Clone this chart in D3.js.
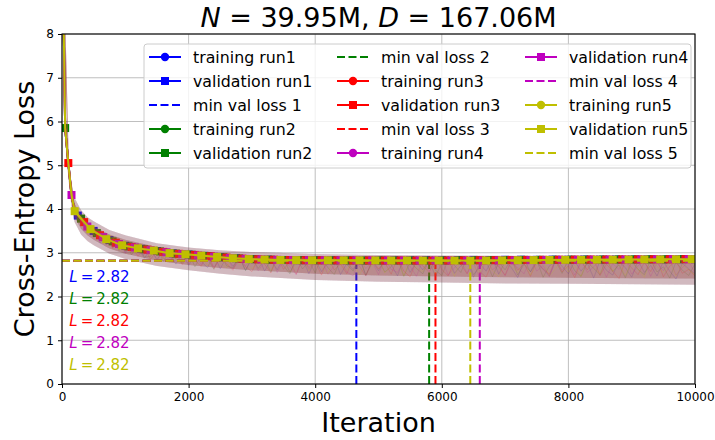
<!DOCTYPE html>
<html><head><meta charset="utf-8">
<script src="https://cdn.jsdelivr.net/npm/d3@7"></script>
<style>body{margin:0;background:#fff}svg{display:block}text{font-family:"DejaVu Sans",sans-serif}</style>
</head><body>
<svg id="c" width="715" height="440"></svg>
<script>
// ---------- data ----------
const runNames = ["run1","run2","run3","run4","run5"];
const runColors = ["#0000ff","#008000","#ff0000","#bf00bf","#bfbf00"];
const xTicks = [0,2000,4000,6000,8000,10000];
const yTicks = [0,1,2,3,4,5,6,7,8];
const titleParts = ["N"," = 39.95M, ","D"," = 167.06M"];

// training loss, sampled every 100 iterations (0..10000)
const trainStep = 100;
const train1 = [10.9,5.05,3.96,3.80,3.49,3.58,3.22,3.41,3.12,3.30,
 3.01,3.19,3.14,2.87,3.10,2.83,3.06,2.99,2.74,3.02,
 2.71,2.95,2.80,2.66,2.97,2.63,2.91,2.69,2.88,2.60,
 2.86,2.92,2.58,2.83,2.61,2.89,2.55,2.80,2.87,2.52,
 2.84,2.57,2.78,2.90,2.50,2.76,2.62,2.86,2.48,2.81,
 2.59,2.84,2.73,2.47,2.88,2.55,2.79,2.61,2.83,2.45,
 2.77,2.86,2.53,2.70,2.82,2.44,2.75,2.58,2.87,2.51,
 2.80,2.66,2.43,2.85,2.56,2.78,2.62,2.47,2.84,2.69,
 2.52,2.81,2.58,2.76,2.42,2.83,2.60,2.49,2.79,2.66,
 2.44,2.82,2.55,2.71,2.47,2.80,2.58,2.40,2.76,2.63,2.52];
const train2 = [10.9,4.92,4.08,3.64,3.70,3.36,3.47,3.19,3.38,3.05,
 3.26,2.95,3.21,2.90,2.92,3.15,2.80,3.04,2.86,2.76,
 3.01,2.68,2.93,2.87,2.62,2.99,2.70,2.65,2.93,2.59,
 2.90,2.64,2.85,2.56,2.92,2.70,2.52,2.88,2.63,2.81,
 2.54,2.91,2.66,2.50,2.85,2.73,2.58,2.89,2.49,2.77,
 2.83,2.56,2.68,2.90,2.46,2.79,2.64,2.52,2.86,2.60,
 2.48,2.84,2.71,2.55,2.88,2.50,2.67,2.81,2.45,2.78,
 2.61,2.87,2.49,2.74,2.57,2.83,2.44,2.70,2.80,2.53,
 2.85,2.59,2.46,2.79,2.64,2.50,2.86,2.57,2.72,2.43,
 2.81,2.62,2.50,2.84,2.56,2.68,2.42,2.79,2.60,2.48,2.75];
const train3 = [10.9,5.10,3.92,3.78,3.45,3.55,3.26,3.39,3.10,3.28,
 3.05,3.16,2.92,3.11,2.85,3.05,2.88,2.79,3.03,2.73,
 2.94,2.82,2.69,2.98,2.64,2.89,2.75,2.60,2.91,2.68,
 2.57,2.87,2.74,2.54,2.90,2.62,2.80,2.51,2.86,2.66,
 2.79,2.49,2.88,2.61,2.74,2.52,2.87,2.69,2.47,2.83,
 2.63,2.78,2.51,2.89,2.58,2.45,2.82,2.70,2.55,2.86,
 2.62,2.47,2.80,2.73,2.52,2.88,2.57,2.44,2.79,2.68,
 2.49,2.84,2.60,2.75,2.46,2.82,2.63,2.51,2.87,2.56,
 2.70,2.43,2.80,2.61,2.85,2.48,2.74,2.58,2.41,2.83,
 2.65,2.50,2.78,2.57,2.86,2.45,2.69,2.81,2.53,2.62,2.47];
const train4 = [10.9,4.98,4.02,3.70,3.62,3.41,3.30,3.44,3.15,3.25,
 2.99,3.22,3.00,2.96,3.08,2.86,3.00,2.82,3.01,2.84,
 2.76,2.99,2.73,2.91,2.67,2.85,2.93,2.63,2.82,2.70,
 2.88,2.59,2.79,2.91,2.55,2.84,2.68,2.50,2.89,2.62,
 2.75,2.86,2.51,2.70,2.82,2.56,2.47,2.85,2.64,2.79,
 2.50,2.87,2.62,2.55,2.81,2.69,2.46,2.84,2.58,2.76,
 2.85,2.49,2.66,2.83,2.53,2.77,2.42,2.86,2.61,2.72,
 2.47,2.80,2.65,2.52,2.88,2.58,2.71,2.45,2.83,2.60,
 2.77,2.49,2.84,2.55,2.68,2.82,2.44,2.75,2.62,2.86,
 2.51,2.70,2.83,2.46,2.77,2.59,2.85,2.49,2.66,2.80,2.54];
const train5 = [10.9,5.06,3.98,3.74,3.55,3.48,3.33,3.22,3.36,3.09,
 3.20,2.98,3.13,3.06,2.91,3.08,2.87,3.00,2.85,2.95,
 2.80,2.90,2.95,2.70,2.88,2.77,2.66,2.90,2.72,2.86,
 2.63,2.82,2.89,2.60,2.78,2.85,2.56,2.74,2.90,2.59,
 2.81,2.67,2.53,2.88,2.72,2.60,2.84,2.49,2.77,2.69,
 2.87,2.54,2.72,2.80,2.48,2.83,2.66,2.57,2.88,2.51,
 2.74,2.79,2.46,2.85,2.63,2.70,2.52,2.87,2.59,2.45,
 2.82,2.68,2.55,2.86,2.49,2.73,2.80,2.47,2.64,2.85,
 2.56,2.71,2.46,2.83,2.67,2.53,2.87,2.58,2.74,2.48,
 2.80,2.62,2.44,2.84,2.69,2.55,2.81,2.47,2.72,2.61,2.50];
const trainRuns = [train1,train2,train3,train4,train5];

// spread of the dense training noise (outer envelope and dense core)
const bandIters = [0,50,100,150,200,300,400,500,750,1000,1500,2000,2500,3000,4000,5000,6000,7000,8000,9000,10000];
const bandHigh  = [11,6.3,5.3,4.6,4.25,3.98,3.82,3.72,3.52,3.40,3.22,3.12,3.06,3.02,2.97,2.95,2.94,2.93,2.93,2.92,2.92];
const bandLow   = [10.6,5.6,4.7,4.05,3.70,3.42,3.27,3.17,2.98,2.86,2.70,2.60,2.52,2.46,2.38,2.34,2.32,2.30,2.29,2.28,2.27];
const coreHigh  = [10.9,6.1,5.15,4.45,4.12,3.86,3.70,3.60,3.42,3.30,3.13,3.02,2.96,2.92,2.87,2.85,2.84,2.83,2.83,2.82,2.82];
const coreLow   = [10.7,5.8,4.85,4.2,3.82,3.55,3.40,3.30,3.10,2.98,2.82,2.72,2.65,2.60,2.52,2.48,2.46,2.44,2.43,2.42,2.41];

// validation loss: shared early evaluations + each run's marked evaluations (every 250 its)
const valEarlyIters = [0,50,100,150,200];
const valEarly = [10.9,5.85,5.05,4.32,3.95];
const valOffsets = [0,50,100,150,200];
const valStep = 250;
const val1 = [10.9,3.85,3.50,3.29,3.16,3.09,3.04,2.985,2.96,2.93,2.90,2.875,2.855,2.845,2.835,2.83,2.83,2.828,2.825,2.822,2.826,2.83,2.828,2.832,2.83,2.834,2.836,2.833,2.838,2.84,2.837,2.842,2.84,2.845,2.843,2.847,2.846,2.85,2.848,2.852,2.85];
const val2 = [5.85,3.78,3.45,3.26,3.145,3.08,3.03,2.98,2.955,2.925,2.895,2.87,2.852,2.842,2.834,2.83,2.828,2.826,2.825,2.823,2.824,2.822,2.823,2.82,2.824,2.827,2.83,2.832,2.835,2.837,2.838,2.84,2.842,2.843,2.845,2.846,2.848,2.849,2.85,2.852];
const val3 = [5.05,3.70,3.40,3.23,3.13,3.07,3.02,2.975,2.95,2.92,2.89,2.865,2.85,2.84,2.833,2.83,2.828,2.827,2.825,2.824,2.823,2.824,2.822,2.821,2.823,2.826,2.829,2.831,2.834,2.836,2.838,2.84,2.842,2.844,2.845,2.847,2.848,2.85,2.851,2.853];
const val4 = [4.32,3.60,3.36,3.20,3.12,3.06,3.01,2.97,2.94,2.91,2.88,2.86,2.848,2.838,2.832,2.83,2.828,2.827,2.826,2.825,2.824,2.824,2.823,2.823,2.822,2.822,2.821,2.824,2.828,2.832,2.835,2.838,2.84,2.842,2.844,2.846,2.847,2.849,2.85,2.852];
const val5 = [3.95,3.54,3.31,3.17,3.10,3.05,2.99,2.965,2.935,2.905,2.875,2.855,2.845,2.835,2.831,2.829,2.828,2.827,2.826,2.825,2.824,2.824,2.823,2.823,2.822,2.82,2.823,2.826,2.829,2.832,2.835,2.838,2.84,2.842,2.844,2.846,2.848,2.849,2.851,2.853];
const valRuns = [val1,val2,val3,val4,val5];

// minimum validation loss per run
const minIters = [4650,5800,5900,6600,6450];
const minVals = [2.82,2.82,2.82,2.82,2.82];
const minLabels = ["2.82","2.82","2.82","2.82","2.82"];

// ---------- drawing ----------
const svg = d3.select("#c");
const L = 62, R = 695, T = 34, B = 384;
const x = d3.scaleLinear().domain([0,10000]).range([L,R]);
const y = d3.scaleLinear().domain([0,8]).range([B,T]);

svg.append("defs").append("clipPath").attr("id","clip")
  .append("rect").attr("x",L).attr("y",T).attr("width",R-L).attr("height",B-T);

// grid
const grid = svg.append("g");
grid.selectAll(".gx").data(xTicks).enter().append("line")
  .attr("x1",d=>x(d)).attr("x2",d=>x(d)).attr("y1",T).attr("y2",B)
  .attr("stroke","#b0b0b0").attr("stroke-width",1).attr("opacity",0.8);
grid.selectAll(".gy").data(yTicks).enter().append("line")
  .attr("x1",L).attr("x2",R).attr("y1",d=>y(d)).attr("y2",d=>y(d))
  .attr("stroke","#b0b0b0").attr("stroke-width",1).attr("opacity",0.8);

const plot = svg.append("g").attr("clip-path","url(#clip)");
const line = d3.line().x(d=>x(d[0])).y(d=>y(d[1]));
const area = d3.area().x(d=>x(d[0])).y0(d=>y(d[1])).y1(d=>y(d[2]));
const bandData = bandIters.map((t,i)=>[t,bandLow[i],bandHigh[i]]);
const coreData = bandIters.map((t,i)=>[t,coreLow[i],coreHigh[i]]);

for (let k=0;k<5;k++){
  const c = runColors[k];
  // min val loss lines
  plot.append("line").attr("x1",x(0)).attr("x2",x(10000))
    .attr("y1",y(minVals[k])).attr("y2",y(minVals[k]))
    .attr("stroke",c).attr("stroke-width",2).attr("stroke-dasharray","8,3.5");
  plot.append("line").attr("x1",x(minIters[k])).attr("x2",x(minIters[k]))
    .attr("y1",y(0)).attr("y2",y(minVals[k]))
    .attr("stroke",c).attr("stroke-width",2).attr("stroke-dasharray","8,3.5");
  // training (noisy, translucent)
  plot.append("path").datum(bandData).attr("d",area).attr("fill",c).attr("opacity",0.085);
  plot.append("path").datum(coreData).attr("d",area).attr("fill",c).attr("opacity",0.1);
  const tr = trainRuns[k].map((v,i)=>[i*trainStep,v]);
  plot.append("path").datum(tr).attr("d",line).attr("fill","none")
    .attr("stroke",c).attr("stroke-width",0.8).attr("opacity",0.22);
  // validation
  const marks = valRuns[k].map((v,i)=>[valOffsets[k]+i*valStep,v]);
  const markSet = new Set(marks.map(d=>d[0]));
  const pts = valEarlyIters.map((t,i)=>[t,valEarly[i]]).filter(d=>!markSet.has(d[0])).concat(marks)
    .sort((a,b)=>a[0]-b[0]);
  plot.append("path").datum(pts).attr("d",line).attr("fill","none")
    .attr("stroke",c).attr("stroke-width",2);
  plot.selectAll(null).data(marks).enter().append("rect")
    .attr("x",d=>x(d[0])-4).attr("y",d=>y(d[1])-4).attr("width",8).attr("height",8)
    .attr("fill",c);
}

// L labels
const labY = [2.45,1.95,1.45,0.95,0.45];
for (let k=0;k<5;k++){
  const t = svg.append("text").attr("x",x(115)).attr("y",y(labY[k])+5.6)
    .attr("font-size",15).attr("fill",runColors[k]);
  t.append("tspan").attr("font-style","italic").text("L");
  t.append("tspan").attr("dx",3).text("=");
  t.append("tspan").attr("dx",3).text(minLabels[k]);
}

// spines
svg.append("rect").attr("x",L).attr("y",T).attr("width",R-L).attr("height",B-T)
  .attr("fill","none").attr("stroke","#000").attr("stroke-width",1.1);

// axes
const ax = svg.append("g").attr("transform",`translate(0,${B})`)
  .call(d3.axisBottom(x).tickValues(xTicks).tickFormat(d3.format("d")).tickSizeInner(4).tickSizeOuter(0).tickPadding(4));
const ay = svg.append("g").attr("transform",`translate(${L},0)`)
  .call(d3.axisLeft(y).tickValues(yTicks).tickFormat(d3.format("d")).tickSizeInner(4).tickSizeOuter(0).tickPadding(4));
[ax,ay].forEach(g=>{
  g.select(".domain").remove();
  g.selectAll("text").attr("font-size",12).attr("fill","#000").attr("font-family","DejaVu Sans");
  g.selectAll("line").attr("stroke","#000");
});

// labels
svg.append("text").attr("x",(L+R)/2).attr("y",432).attr("text-anchor","middle")
  .attr("font-size",27).text("Iteration");
svg.append("text").attr("transform",`translate(34,${(T+B)/2}) rotate(-90)`).attr("text-anchor","middle")
  .attr("font-size",27).text("Cross-Entropy Loss");
const tt = svg.append("text").attr("x",(L+R)/2).attr("y",27).attr("text-anchor","middle").attr("font-size",27);
titleParts.forEach((p,i)=>tt.append("tspan").attr("font-style",i%2===0?"italic":"normal").text(p));

// legend
const lg = svg.append("g");
lg.append("rect").attr("x",144).attr("y",44).attr("width",547).attr("height",124).attr("rx",3)
  .attr("fill","#fff").attr("fill-opacity",0.8).attr("stroke","#cccccc");
const entries = [];
for (let k=0;k<5;k++){
  entries.push({t:"training "+runNames[k],c:runColors[k],m:"o"});
  entries.push({t:"validation "+runNames[k],c:runColors[k],m:"s"});
  entries.push({t:"min val loss "+(k+1),c:runColors[k],m:"d"});
}
const colX = [149,337,525], rowY0 = 57, rowDY = 24, hl = 32;
entries.forEach((e,i)=>{
  const col = Math.floor(i/5), row = i%5;
  const hx = colX[col], hy = rowY0 + row*rowDY;
  const g = lg.append("g");
  if (e.m==="d"){
    g.append("line").attr("x1",hx).attr("x2",hx+hl).attr("y1",hy).attr("y2",hy)
      .attr("stroke",e.c).attr("stroke-width",2).attr("stroke-dasharray","8,3.5");
  } else {
    g.append("line").attr("x1",hx).attr("x2",hx+hl).attr("y1",hy).attr("y2",hy)
      .attr("stroke",e.c).attr("stroke-width",2);
    if (e.m==="o") g.append("circle").attr("cx",hx+hl/2).attr("cy",hy).attr("r",4.2).attr("fill",e.c);
    else g.append("rect").attr("x",hx+hl/2-4).attr("y",hy-4).attr("width",8).attr("height",8).attr("fill",e.c);
  }
  g.append("text").attr("x",hx+44).attr("y",hy+5.8).attr("font-size",15.8).attr("fill","#000").text(e.t);
});
</script>
</body></html>
